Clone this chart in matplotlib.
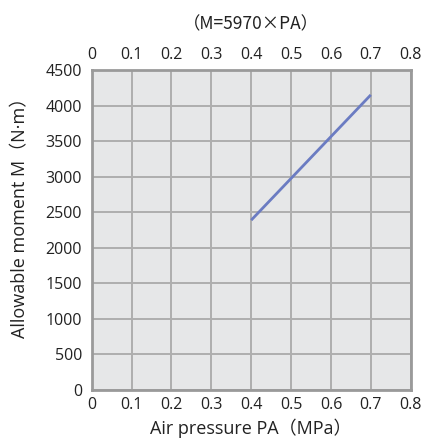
import matplotlib.pyplot as plt

plt.rcParams['font.family'] = ['Open Sans', 'Noto Sans CJK JP', 'DejaVu Sans']

# M = 5970 x PA over the usable pressure range
pressure = [0.4, 0.7]
moment = [2388, 4150]

x_ticks = [0, 0.1, 0.2, 0.3, 0.4, 0.5, 0.6, 0.7, 0.8]
x_labels = ['0', '0.1', '0.2', '0.3', '0.4', '0.5', '0.6', '0.7', '0.8']
y_ticks = [0, 500, 1000, 1500, 2000, 2500, 3000, 3500, 4000, 4500]

fig = plt.figure(figsize=(4.24, 4.48), dpi=100)
ax = fig.add_axes([0.2163, 0.1295, 0.7523, 0.7143])
ax.set_facecolor('#e6e7e8')

ax.plot(pressure, moment, color='#6b7cc2', lw=2.0, solid_capstyle='butt', zorder=3)

ax.set_xlim(0, 0.8)
ax.set_ylim(0, 4500)
ax.set_xticks(x_ticks)
ax.set_xticklabels(x_labels)
ax.set_yticks(y_ticks)
ax.grid(True, color='#aeaeae', lw=1.4)
ax.set_axisbelow(True)

for s in ax.spines.values():
    s.set_color('#9a9a9a')
    s.set_linewidth(2.0)

ax.tick_params(length=0, labelsize=11.5, colors='#222222', pad=7)
ax.tick_params(axis='x', pad=5)
ax.tick_params(labeltop=True, top=False)

ax.set_xlabel('Air pressure PA（MPa）', fontsize=13, color='#222222', labelpad=4)
ax.set_ylabel('Allowable moment M（N·m）', fontsize=13, color='#222222')
ax.yaxis.set_label_coords(-0.195, 0.553)
ax.set_title('（M=5970×PA）', fontsize=12.5, color='#222222', pad=29,
             family=['Noto Sans CJK JP', 'DejaVu Sans'])

fig.savefig('out.png', dpi=100)
